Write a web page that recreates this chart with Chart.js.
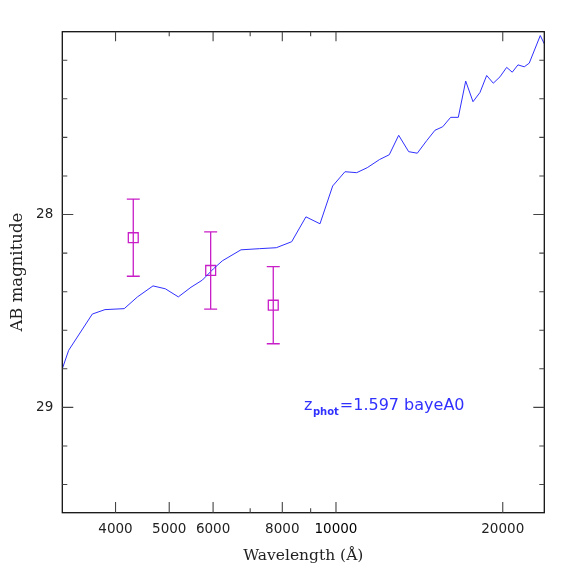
<!DOCTYPE html>
<html>
<head>
<meta charset="utf-8">
<script src="https://cdn.jsdelivr.net/npm/chart.js@4.4.1/dist/chart.umd.min.js"></script>
<style>
  html, body { margin: 0; padding: 0; background: #fff; }
  #wrap { width: 574px; height: 574px; }
</style>
</head>
<body>
<div id="wrap"><canvas id="sedChart" width="574" height="574"></canvas></div>
<script>
// ---- data ----
const sedWave = [3206, 3292, 3632, 3828, 4147, 4382, 4674, 4920, 5193, 5474,
  5738, 6006, 6235, 6737, 7284, 7802, 8318, 8826, 9357, 9863,
  10381, 10898, 11389, 11982, 12479, 12977, 13527, 14021, 14578, 15090,
  15581, 16106, 16626, 17145, 17674, 18195, 18707, 19227, 19770, 20328,
  20806, 21305, 21871, 22329, 23375, 23770];
const sedMag = [28.80, 28.704, 28.516, 28.493, 28.488, 28.427, 28.370, 28.385, 28.427, 28.377,
  28.340, 28.282, 28.240, 28.183, 28.177, 28.172, 28.141, 28.012, 28.048, 27.852,
  27.778, 27.783, 27.757, 27.715, 27.690, 27.589, 27.674, 27.682, 27.617, 27.563,
  27.545, 27.496, 27.496, 27.308, 27.415, 27.367, 27.279, 27.319, 27.286, 27.237,
  27.262, 27.224, 27.234, 27.215, 27.072, 27.115];

const photWave = [4306, 5940, 7705];
const photMag = [28.12, 28.29, 28.47];
const photErr = [0.2, 0.2, 0.2];

const xTicks = [4000, 5000, 6000, 7000, 8000, 9000, 10000, 20000];
const xLabelled = [4000, 5000, 6000, 8000, 10000, 20000];
const xTopLong = [4000, 6000, 8000, 10000, 20000];
const yTicks = [27.2, 27.4, 27.6, 27.8, 28.0, 28.2, 28.4, 28.6, 28.8, 29.0, 29.2, 29.4];
const yLabelled = [28, 29];

const BLUE = "#3030ff";
const MAGENTA = "#c81ec8";

// ---- inward ticks, frame, error bars, label ----
const framePlugin = {
  id: "frame",
  afterDatasetsDraw(chart) {
    const { ctx, chartArea: a, scales: { x, y } } = chart;
    ctx.save();

    // error bars
    ctx.strokeStyle = MAGENTA;
    ctx.lineWidth = 1.3;
    photWave.forEach((w, i) => {
      const px = x.getPixelForValue(w);
      const top = y.getPixelForValue(photMag[i] - photErr[i]);
      const bot = y.getPixelForValue(photMag[i] + photErr[i]);
      ctx.beginPath();
      ctx.moveTo(px, top); ctx.lineTo(px, bot);
      ctx.moveTo(px - 6.5, top); ctx.lineTo(px + 6.5, top);
      ctx.moveTo(px - 6.5, bot); ctx.lineTo(px + 6.5, bot);
      ctx.stroke();
    });

    // frame + ticks
    ctx.strokeStyle = "#111";
    ctx.lineWidth = 1.3;
    ctx.strokeRect(a.left, a.top, a.right - a.left, a.bottom - a.top);
    ctx.strokeStyle = "#444";
    ctx.lineWidth = 1.1;
    ctx.beginPath();
    xTicks.forEach(v => {
      const px = x.getPixelForValue(v);
      const lb = xLabelled.includes(v) ? 10.7 : 4.5;
      const lt = xTopLong.includes(v) ? 9.5 : 4.5;
      ctx.moveTo(px, a.bottom); ctx.lineTo(px, a.bottom - lb);
      ctx.moveTo(px, a.top); ctx.lineTo(px, a.top + lt);
    });
    yTicks.forEach(v => {
      const py = y.getPixelForValue(v);
      const l = yLabelled.includes(Math.round(v * 10) / 10) ? 11 : 5;
      ctx.moveTo(a.left, py); ctx.lineTo(a.left + l, py);
      ctx.moveTo(a.right, py); ctx.lineTo(a.right - l, py);
    });
    ctx.stroke();

    // redshift label
    let tx = x.getPixelForValue(8755);
    const ty = y.getPixelForValue(29.015);
    ctx.fillStyle = BLUE;
    ctx.textBaseline = "alphabetic";
    ctx.textAlign = "left";
    ctx.font = "16px 'DejaVu Sans'";
    ctx.fillText("z", tx, ty);
    tx += ctx.measureText("z").width + 0.5;
    ctx.font = "bold 10px 'DejaVu Sans'";
    ctx.fillText("phot", tx, ty + 5);
    tx += ctx.measureText("phot").width + 1;
    ctx.font = "16px 'DejaVu Sans'";
    ctx.fillText("=1.597 bayeA0", tx, ty);

    ctx.restore();
  },
};

// ---- chart ----
const initSedChart = () => {
  const ctx = document.getElementById("sedChart").getContext("2d");
  new Chart(ctx, {
    type: "scatter",
    data: {
      datasets: [
        {
          label: "SED",
          data: sedWave.map((w, i) => ({ x: w, y: sedMag[i] })),
          showLine: true,
          borderColor: BLUE,
          borderWidth: 1,
          pointRadius: 0,
          tension: 0,
        },
        {
          label: "Photometry",
          data: photWave.map((w, i) => ({ x: w, y: photMag[i] })),
          pointStyle: "rect",
          pointRadius: 7,
          pointBorderColor: MAGENTA,
          pointBackgroundColor: "rgba(0,0,0,0)",
          pointBorderWidth: 1.3,
        },
      ],
    },
    options: {
      responsive: false,
      animation: false,
      layout: { padding: { left: 0, top: 31.7, right: 29.7, bottom: 0 } },
      plugins: {
        legend: { display: false },
        tooltip: { enabled: false },
      },
      scales: {
        x: {
          type: "logarithmic",
          min: 3206,
          max: 23770,
          afterBuildTicks: s => { s.ticks = xTicks.map(v => ({ value: v })); },
          afterFit: s => { s.height = 61.3; },
          grid: { display: false, drawTicks: false },
          border: { display: false },
          ticks: {
            autoSkip: false,
            maxRotation: 0,
            padding: 9,
            color: c => (c.tick && c.tick.value === 10000 ? "#000" : "#222"),
            font: { family: "'DejaVu Sans'", size: 13.5 },
            callback: v => (xLabelled.includes(v) ? String(v) : ""),
          },
          title: {
            display: true,
            text: "Wavelength (Å)",
            color: "#222",
            font: { family: "'DejaVu Serif'", size: 15.5 },
            padding: { top: 0, bottom: 9 },
          },
        },
        y: {
          reverse: true,
          min: 27.052,
          max: 29.546,
          afterBuildTicks: s => { s.ticks = yTicks.map(v => ({ value: v })); },
          afterFit: s => { s.width = 62.3; },
          grid: { display: false, drawTicks: false },
          border: { display: false },
          ticks: {
            autoSkip: false,
            padding: 9,
            color: "#222",
            font: { family: "'DejaVu Sans'", size: 13.5 },
            callback: v => {
              const r = Math.round(v * 10) / 10;
              return yLabelled.includes(r) ? String(r) : "";
            },
          },
          title: {
            display: true,
            text: "AB magnitude",
            color: "#222",
            font: { family: "'DejaVu Serif'", size: 16.5 },
            padding: { top: 8, bottom: 0 },
          },
        },
      },
    },
    plugins: [framePlugin],
  });
};

window.addEventListener("DOMContentLoaded", () => {
  initSedChart();
});
</script>
</body>
</html>
